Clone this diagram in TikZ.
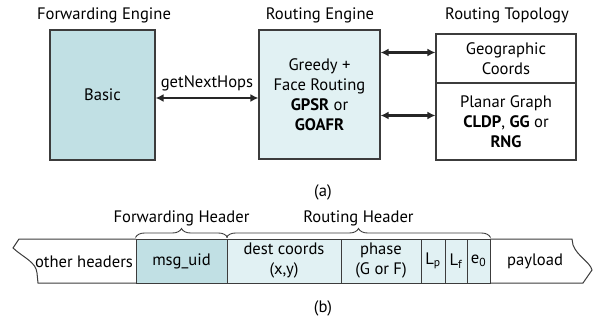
\documentclass[tikz,border=0pt]{standalone}
\usepackage{fontspec}
\setmainfont{PT Sans}
\usetikzlibrary{arrows.meta,decorations.pathreplacing}

\definecolor{fwdfill}{RGB}{193,224,228}
\definecolor{rtfill}{RGB}{225,241,243}
\definecolor{edge}{RGB}{60,60,60}

\tikzset{
  block/.style={draw=edge,line width=1.2pt,inner sep=0pt,align=center},
  field/.style={draw=edge,line width=1pt,inner sep=0pt,align=center,minimum height=44pt},
  biarrow/.style={{Latex[length=8pt,width=8pt]}-{Latex[length=8pt,width=8pt]},line width=2.2pt,draw=black!85},
  hdrbrace/.style={decorate,decoration={brace,amplitude=9pt},draw=edge,line width=0.9pt},
}

\begin{document}
\begin{tikzpicture}[x=1pt,y=-1pt,font=\fontsize{16.6}{20}\selectfont]
\useasboundingbox (0,0) rectangle (596,320);

% (a) engines
\node (fwdtitle) at (104,15) {Forwarding Engine};
\node (rttitle) at (320,15) {Routing Engine};
\node (topotitle) at (507,15) {Routing Topology};

\node[block,fill=fwdfill,minimum width=105pt,minimum height=130pt] (basic) at (102.5,95) {Basic};
\node[block,fill=rtfill,minimum width=121pt,minimum height=129pt] (engine) at (319.5,94.5)
  {Greedy +\\Face Routing\\\textbf{GPSR} or\\\textbf{GOAFR}};

\node[block,minimum width=140pt,minimum height=49pt] (geo) at (506,58.5) {Geographic\\Coords};
\node[block,minimum width=140pt,minimum height=77pt] (planar) at (506,121.5)
  {Planar Graph\\\textbf{CLDP}, \textbf{GG} or\\\textbf{RNG}};

\draw[biarrow] ([yshift=-3pt]basic.east) -- node[above=3pt] {getNextHops} ([yshift=-3pt]basic.east -| engine.west);
\draw[biarrow] ([yshift=6pt]engine.east |- geo.west) -- ([yshift=6pt]geo.west);
\draw[biarrow] ([yshift=6pt]engine.east |- planar.west) -- ([yshift=6pt]planar.west);

\node (capa) at (323,192) {(a)};

% (b) packet layout
\draw[edge,line width=1pt] (136,239) -- (19,239) -- (13,248)
  .. controls (24,258) and (36,262) .. (37,273) -- (38,283) -- (136,283);
\node (other) at (84,262) {other headers};

\node[field,fill=fwdfill,minimum width=91pt] (msg) at (181.5,261) {msg\_uid};
\node[field,fill=rtfill,minimum width=114pt] (dest) at (284,261) {dest coords\\(x,y)};
\node[field,fill=rtfill,minimum width=80pt] (phase) at (381,261) {phase\\(G or F)};
\node[field,fill=rtfill,minimum width=24pt] (lp) at (433,261) {L\textsubscript{p}};
\node[field,fill=rtfill,minimum width=22pt] (lf) at (456,261) {L\textsubscript{f}};
\node[field,fill=rtfill,minimum width=23pt] (ezero) at (478.5,261) {e\textsubscript{0}};

\draw[edge,line width=1pt] (490,239) -- (572,239) -- (573,245)
  .. controls (577,256) and (590,262) .. (592,270) -- (583,283) -- (490,283);
\node (payload) at (535,261) {payload};

\draw[hdrbrace] ([yshift=1pt]msg.north west) -- node[above=8pt] (fwdhdr) {Forwarding Header} ([yshift=1pt]msg.north east);
\draw[hdrbrace] ([yshift=1pt]dest.north west) -- node[above=8pt] (rthdr) {Routing Header} ([yshift=1pt]ezero.north east);

\node (capb) at (323,308) {(b)};
\end{tikzpicture}
\end{document}
